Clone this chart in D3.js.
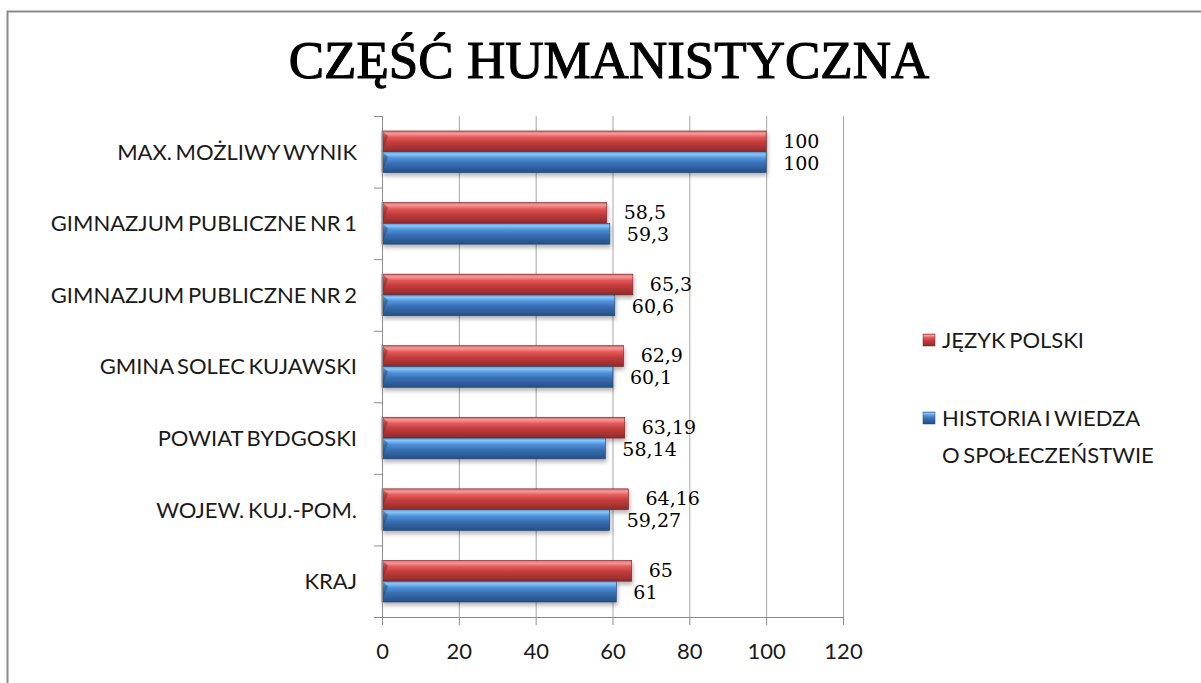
<!DOCTYPE html>
<html>
<head>
<meta charset="utf-8">
<script src="https://cdn.jsdelivr.net/npm/d3@7"></script>
<style>
  body { margin: 0; background: #fff; }
  svg { display: block; }
</style>
</head>
<body>
<svg id="chart"></svg>
<script>
// data
const categories = ['MAX. MOŻLIWY WYNIK', 'GIMNAZJUM PUBLICZNE NR 1', 'GIMNAZJUM PUBLICZNE NR 2',
    'GMINA SOLEC KUJAWSKI', 'POWIAT BYDGOSKI', 'WOJEW. KUJ.-POM.', 'KRAJ'];
const polski = [100, 58.5, 65.3, 62.9, 63.19, 64.16, 65];
const historia = [100, 59.3, 60.6, 60.1, 58.14, 59.27, 61];
const seriesNames = ['JĘZYK POLSKI', 'HISTORIA I WIEDZA|O SPOŁECZEŃSTWIE'];
const xTicks = [0, 20, 40, 60, 80, 100, 120];

const W = 1201, H = 683;
const margin = { left: 382, right: 358, top: 116, bottom: 66 };

const svg = d3.select('#chart').attr('width', W).attr('height', H);

// gradients for the "3D" look
const defs = svg.append('defs');
function grad(id, stops) {
    let g = defs.append('linearGradient').attr('id', id)
        .attr('x1', 0).attr('y1', 0).attr('x2', 0).attr('y2', 1);
    stops.forEach(s => g.append('stop').attr('offset', s[0]).attr('stop-color', s[1]));
}
grad('gRed', [[0, '#d96262'], [0.12, '#f79a9a'], [0.3, '#e35a5a'], [0.55, '#c43c3c'], [1, '#8f2a2a']]);
grad('gBlue', [[0, '#5f98d6'], [0.12, '#8cc4f5'], [0.3, '#4f93dc'], [0.55, '#3a70b4'], [1, '#244f86']]);

let sh = defs.append('filter').attr('id', 'shadow')
    .attr('x', '-5%').attr('y', '-20%').attr('width', '110%').attr('height', '160%');
sh.append('feDropShadow').attr('dx', 1).attr('dy', 3).attr('stdDeviation', 2)
    .attr('flood-color', '#000').attr('flood-opacity', 0.3);

// frame
svg.append('rect')
    .attr('x', 7.5).attr('y', 11.5).attr('width', 1220).attr('height', 720)
    .attr('fill', 'none').attr('stroke', '#8a8a8a').attr('stroke-width', 2);

// title
svg.append('text')
    .attr('x', 609).attr('y', 78)
    .attr('text-anchor', 'middle')
    .style('font-family', '"Liberation Serif", "DejaVu Serif", serif')
    .style('font-size', '53px')
    .attr('stroke', '#000').attr('stroke-width', 1.1)
    .text('CZĘŚĆ HUMANISTYCZNA');

const x = d3.scaleLinear().domain([0, 120]).range([margin.left, W - margin.right]);
const y = d3.scaleBand().domain(categories).range([margin.top, H - margin.bottom]);
const inner = d3.scaleBand().domain(['polski', 'historia']).range([0, y.bandwidth()])
    .paddingOuter(0.72).paddingInner(0);

// grid
svg.append('g').selectAll('line').data(xTicks.slice(1)).enter()
    .append('line')
    .attr('x1', d => x(d) + 0.5).attr('x2', d => x(d) + 0.5)
    .attr('y1', margin.top).attr('y2', H - margin.bottom)
    .attr('stroke', '#a6a6a6').attr('stroke-width', 1);

// bars
const rows = categories.map((c, i) => ({ cat: c, polski: polski[i], historia: historia[i] }));
const series = [
    { key: 'polski', fill: 'url(#gRed)', edge: '#7a2020', dy: -11 },
    { key: 'historia', fill: 'url(#gBlue)', edge: '#1f4370', dy: 11 }
];

series.forEach(s => {
    let g = svg.append('g');
    g.selectAll('rect').data(rows).enter()
        .append('rect')
        .attr('x', x(0))
        .attr('y', d => y(d.cat) + inner(s.key))
        .attr('width', d => x(d[s.key]) - x(0))
        .attr('height', inner.bandwidth())
        .attr('fill', s.fill)
        .attr('stroke', s.edge).attr('stroke-width', 0.6)
        .attr('filter', 'url(#shadow)');
    // small bevel at the left end of each bar
    g.selectAll('path').data(rows).enter()
        .append('path')
        .attr('d', d => {
            let y0 = y(d.cat) + inner(s.key), h = inner.bandwidth();
            return `M${x(0)},${y0}L${x(0) + 6},${y0 + 5}L${x(0)},${y0 + h}Z`;
        })
        .attr('fill', s.edge).attr('opacity', 0.45);
});

// value labels
series.forEach(s => {
    svg.append('g').selectAll('text').data(rows).enter()
        .append('text')
        .attr('x', d => x(d[s.key]) + 17)
        .attr('y', d => y(d.cat) + y.bandwidth() / 2 + s.dy)
        .attr('dy', '0.36em')
        .style('font-family', '"DejaVu Serif", "Liberation Serif", serif')
        .style('font-size', '19px')
        .text(d => String(d[s.key]).replace('.', ','));
});

// axes
const axisColor = '#8c8c8c';
let yAxis = svg.append('g').attr('transform', `translate(${margin.left},0)`);
yAxis.append('line').attr('x1', 0.5).attr('x2', 0.5)
    .attr('y1', margin.top).attr('y2', H - margin.bottom).attr('stroke', axisColor);
yAxis.selectAll('line.tick').data(categories.map(c => y(c)).concat([H - margin.bottom])).enter()
    .append('line').attr('class', 'tick')
    .attr('x1', -8).attr('x2', 0)
    .attr('y1', d => d + 0.5).attr('y2', d => d + 0.5)
    .attr('stroke', axisColor);
yAxis.selectAll('text').data(categories).enter()
    .append('text')
    .attr('x', -25)
    .attr('y', d => y(d) + y.bandwidth() / 2)
    .attr('dy', '0.36em')
    .attr('text-anchor', 'end')
    .style('font-family', 'Lato, "Open Sans", sans-serif')
    .style('font-size', '22px')
    .style('word-spacing', '-2px')
    .attr('fill', '#1a1a1a')
    .text(d => d);

let xAxis = svg.append('g').attr('transform', `translate(0,${H - margin.bottom})`)
    .call(d3.axisBottom(x).tickValues(xTicks).tickSize(8).tickPadding(18).tickFormat(d3.format('d')));
xAxis.select('.domain').attr('stroke', axisColor);
xAxis.selectAll('.tick line').attr('stroke', axisColor);
xAxis.selectAll('.tick text')
    .style('font-family', 'Lato, "Open Sans", sans-serif')
    .style('font-size', '22px')
    .attr('fill', '#1a1a1a');

// legend
const legend = svg.append('g').attr('transform', 'translate(923,0)');
const legendY = [334, 412];
seriesNames.forEach((name, i) => {
    let g = legend.append('g').attr('transform', `translate(0,${legendY[i]})`);
    g.append('rect').attr('width', 12).attr('height', 12)
        .attr('fill', series[i].fill).attr('stroke', series[i].edge).attr('stroke-width', 0.5);
    name.split('|').forEach((line, j) => {
        g.append('text')
            .attr('x', 19).attr('y', 6 + j * 37)
            .attr('dy', '0.36em')
            .style('font-family', 'Lato, "Open Sans", sans-serif')
            .style('font-size', '22px')
            .style('word-spacing', '-2px')
            .attr('fill', '#1a1a1a')
            .text(line);
    });
});
</script>
</body>
</html>
